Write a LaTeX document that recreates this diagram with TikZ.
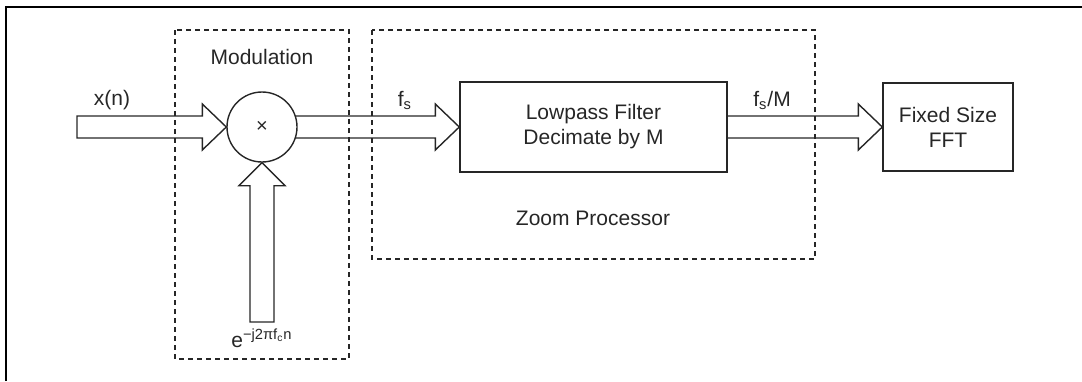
\documentclass[tikz,border=0pt]{standalone}
\usepackage{fontspec}
\setmainfont{Liberation Sans}
\usetikzlibrary{calc}

\definecolor{inkgray}{gray}{0.15}

\newcommand{\rightfat}[3]{%
  \draw[fatline] let \p1=(#1), \p2=(#2) in
    (\x1,\y1+5.5pt) -- (\x2-12pt,\y1+5.5pt) -- (\x2-12pt,\y1+11.5pt) -- (\x2,\y1)
    -- (\x2-12pt,\y1-11.5pt) -- (\x2-12pt,\y1-5.5pt) -- (\x1,\y1-5.5pt) #3;}
\newcommand{\upfat}[2]{%
  \draw[fatline] let \p1=(#1), \p2=(#2) in
    (\x1-6pt,\y1) -- (\x1-6pt,\y2-11.5pt) -- (\x1-11.5pt,\y2-11.5pt) -- (\x2,\y2)
    -- (\x1+11.5pt,\y2-11.5pt) -- (\x1+6pt,\y2-11.5pt) -- (\x1+6pt,\y1) -- cycle;}

\begin{document}
\begin{tikzpicture}[x=0.5pt, y=-0.5pt,
    every node/.style={font=\fontsize{10.5}{12.5}\selectfont, text=inkgray},
    fatline/.style={draw=inkgray, line width=0.7pt, line join=miter},
    block/.style={draw=inkgray, line width=0.7pt, rectangle, align=center, inner sep=0pt},
    mixer/.style={draw=inkgray, line width=0.7pt, circle, minimum size=35pt, inner sep=0pt},
    groupbox/.style={draw=inkgray, line width=0.6pt, dash pattern=on 2.5pt off 2pt}]
        \useasboundingbox (0,0) rectangle (1082,381);
        \draw[line width=1pt] (6,381) -- (6,6.5) -- (1082,6.5);

        \draw[groupbox] (175,30) rectangle (349,359);
        \draw[groupbox] (372,30) rectangle (815,259);
        \node[anchor=base] (modlabel) at (262,64) {Modulation};
        \node[anchor=base] (zoomlabel) at (593,225) {Zoom Processor};

        \node[mixer] (mult) at (262,127) {\fontsize{10}{10}\selectfont ×};
        \node[block, minimum width=133.5pt, minimum height=45pt] (lpf) at (593.5,127) {Lowpass Filter\\Decimate by M};
        \node[block, minimum width=65pt, minimum height=44pt] (fft) at (948,127) {Fixed Size\\FFT};

        \coordinate (xin) at (77,127);
        \coordinate (carrier) at (262,322);

        \rightfat{xin}{mult.west}{-- cycle}
        \rightfat{$(mult.east)+(-2,0)$}{lpf.west}{}
        \rightfat{lpf.east}{fft.west}{}
        \upfat{carrier}{mult.south}

        \node[anchor=base] (xlabel) at (112,105) {x(n)};
        \node[anchor=base] (fslabel) at (405,106) {f\textsubscript{s}};
        \node[anchor=base] (fsmlabel) at (772,106) {f\textsubscript{s}/M};
        \node[anchor=base] (carrierlabel) at (262,347) {e\textsuperscript{−j2πf\textsubscript{c}n}};
      \end{tikzpicture}
\end{document}
